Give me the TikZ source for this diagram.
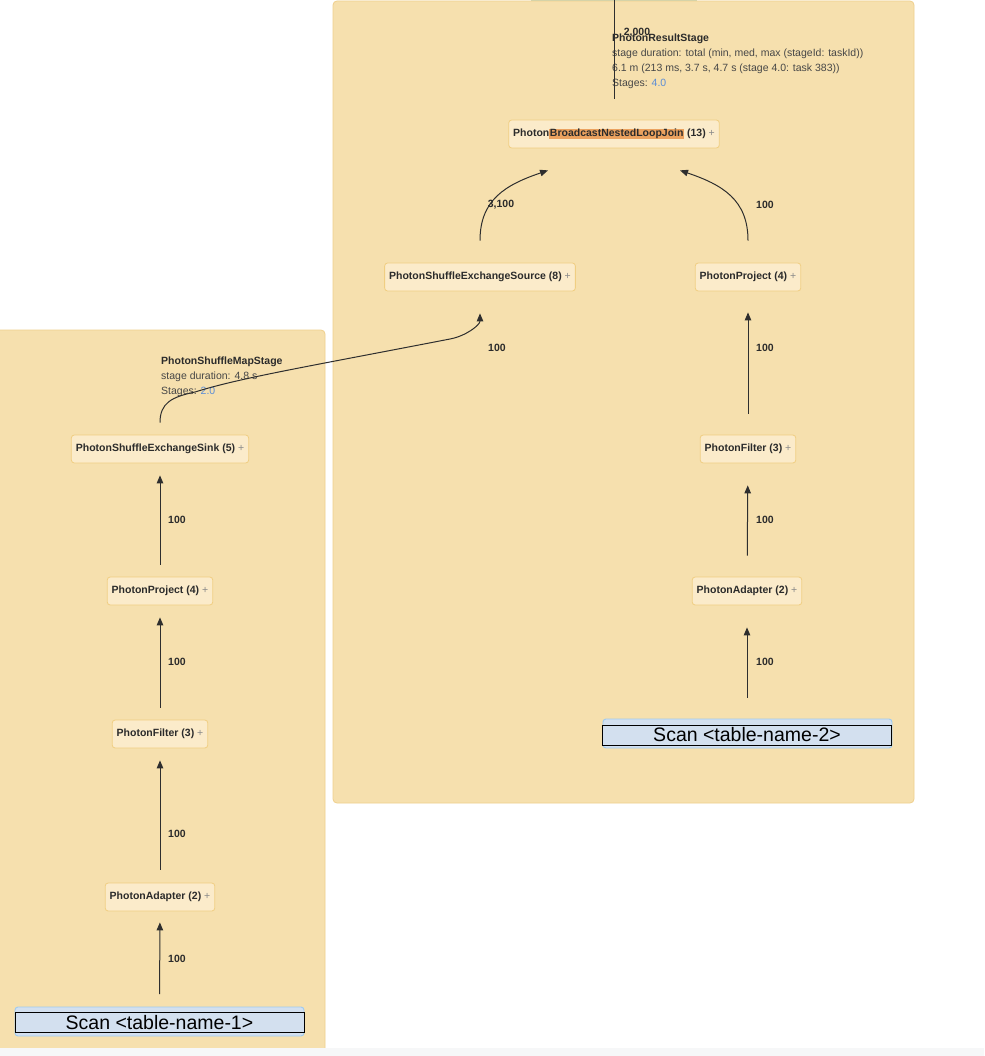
\documentclass[tikz,border=0pt]{standalone}
\usepackage{fontspec}
\setmainfont{Liberation Sans}
\usetikzlibrary{arrows.meta}
\definecolor{panelfill}{HTML}{F6E0AE}
\definecolor{paneldraw}{HTML}{EFCF8C}
\definecolor{nodefill}{HTML}{FBEBCA}
\definecolor{nodedraw}{HTML}{F0CE82}
\definecolor{txt}{HTML}{2B2B2B}
\definecolor{subtxt}{HTML}{474747}
\definecolor{plusgray}{HTML}{8A8A8A}
\definecolor{hlorange}{HTML}{EBA25F}
\definecolor{linkblue}{HTML}{5B8DD6}
\definecolor{scanfill}{HTML}{D3E0EF}
\definecolor{scanrim}{HTML}{9FCBF0}
\definecolor{edgecol}{HTML}{2E2E2E}
\definecolor{stripgray}{HTML}{F6F7F8}
\definecolor{topstrip}{HTML}{D5D3A8}
\newcommand{\hlword}[1]{{\setlength{\fboxsep}{0.6pt}\colorbox{hlorange}{#1}}}
\newcommand{\plussign}{\textcolor{plusgray}{\mdseries +}}
\begin{document}
\begin{tikzpicture}[x=1pt,y=-1pt,
  panel/.style={draw=paneldraw, fill=panelfill, line width=0.8pt, rounded corners=4pt},
  op/.style={draw=nodedraw, fill=nodefill, rounded corners=3pt, line width=0.8pt,
    inner xsep=4.5pt, inner ysep=0pt, minimum height=28pt,
    font=\fontsize{10.5}{12}\selectfont\bfseries, text=txt},
  scanrimstyle/.style={draw=scanrim, fill=scanfill, line width=0.9pt, rounded corners=3pt},
  scanbox/.style={draw=black, line width=1pt, fill=scanfill, minimum width=289pt,
    minimum height=20pt, inner sep=0pt, font=\fontsize{19.5}{20}\selectfont, text=black},
  edge/.style={draw=edgecol, line width=1pt, -{Triangle[length=8pt,width=6.5pt]}},
  plainedge/.style={draw=edgecol, line width=1pt},
  lbl/.style={font=\fontsize{10.5}{12}\selectfont\bfseries, text=txt, inner sep=0pt},
  stagehead/.style={font=\fontsize{10.5}{12}\selectfont\bfseries, text=txt, inner sep=0pt, anchor=base west},
  stageline/.style={font=\fontsize{10.5}{12}\selectfont, text=subtxt, inner sep=0pt, anchor=base west}
]
\useasboundingbox (0,0) rectangle (984,1056);
\fill[white] (0,0) rectangle (984,1056);

% panels
\draw[panel] (333,1) rectangle (914,803);
\draw[panel] (-6,330) rectangle (325,1075);
\fill[stripgray] (0,1048) rectangle (984,1056);
\fill[topstrip] (531,0) rectangle (697,1.5);

% stage texts
\node[stagehead] (rsTitle) at (612,42) {PhotonResultStage};
\node[stageline] (rsDur) at (612,57) {stage duration: total (min, med, max (stageId: taskId))};
\node[stageline] (rsVal) at (612,72) {6.1 m (213 ms, 3.7 s, 4.7 s (stage 4.0: task 383))};
\node[stageline] (rsStages) at (612,87) {Stages: \textcolor{linkblue}{4.0}};

\node[stagehead] (smTitle) at (161,364) {PhotonShuffleMapStage};
\node[stageline] (smDur) at (161,379) {stage duration: 4.8 s};
\node[stageline] (smStages) at (161,394) {Stages: \textcolor{linkblue}{2.0}};

% operator nodes
\node[op] (join) at (614,134) {Photon\hlword{BroadcastNestedLoopJoin} (13) \plussign};
\node[op] (source) at (480,277) {PhotonShuffleExchangeSource (8) \plussign};
\node[op] (projectB) at (748,277) {PhotonProject (4) \plussign};
\node[op] (filterB) at (748,449) {PhotonFilter (3) \plussign};
\node[op] (adapterB) at (747,591) {PhotonAdapter (2) \plussign};

\node[op] (sink) at (160,449) {PhotonShuffleExchangeSink (5) \plussign};
\node[op] (projectA) at (160,591) {PhotonProject (4) \plussign};
\node[op] (filterA) at (160,734) {PhotonFilter (3) \plussign};
\node[op] (adapterA) at (160,897) {PhotonAdapter (2) \plussign};

% scan nodes
\draw[scanrimstyle] (603,719) rectangle (892,748);
\node[scanbox] (scanB) at (747,735) {Scan <table-name-2>};
\draw[scanrimstyle] (15,1007) rectangle (304,1036);
\node[scanbox] (scanA) at (159.5,1022.5) {Scan <table-name-1>};

% left chain
\draw[edge, shorten <=18pt, shorten >=11pt] (scanA) -- (adapterA);
\draw[edge, shorten <=13pt, shorten >=12pt] (adapterA) -- (filterA);
\draw[edge, shorten <=12pt, shorten >=12pt] (filterA) -- (projectA);
\draw[edge, shorten <=12pt, shorten >=12pt] (projectA) -- (sink);

% right chain
\draw[edge, shorten <=27pt, shorten >=22pt] (scanB) -- (adapterB);
\draw[edge, shorten <=21pt, shorten >=22pt] (adapterB) -- (filterB);
\draw[edge, shorten <=21pt, shorten >=21pt] (filterB) -- (projectB);

% sink -> source
\coordinate (kA) at (195,392);
\coordinate (kB) at (450,339);
\draw[edge] ([yshift=12pt]sink.north) .. controls +(0,-20) and (172,397) .. (kA)
  .. controls (240,378) and (300,368) .. (kB)
  .. controls (466,336) and (480,325) .. ([yshift=-22pt]source.south);

% into join
\draw[edge] ([yshift=22pt]source.north) .. controls (480,200) and (505,185) .. ([xshift=-66pt,yshift=-22pt]join.south);
\draw[edge] ([yshift=22pt]projectB.north) .. controls (748,200) and (723,185) .. ([xshift=66pt,yshift=-22pt]join.south);

% join -> upward
\coordinate (topEnd) at (614,0);
\draw[plainedge] ([yshift=21pt]join.north) -- (topEnd);

% edge labels
\node[lbl, anchor=west] (l1) at (168,959) {100};
\node[lbl, anchor=west] (l2) at (168,834) {100};
\node[lbl, anchor=west] (l3) at (168,662) {100};
\node[lbl, anchor=west] (l4) at (168,520) {100};
\node[lbl, anchor=west] (l5) at (756,662) {100};
\node[lbl, anchor=west] (l6) at (756,520) {100};
\node[lbl, anchor=west] (l7) at (756,348) {100};
\node[lbl, anchor=west] (l8) at (488,348) {100};
\node[lbl] (l9) at (501,205) {3,100};
\node[lbl, anchor=west] (l10) at (756,205) {100};
\node[lbl] (l11) at (637,33) {2,000};
\end{tikzpicture}
\end{document}
